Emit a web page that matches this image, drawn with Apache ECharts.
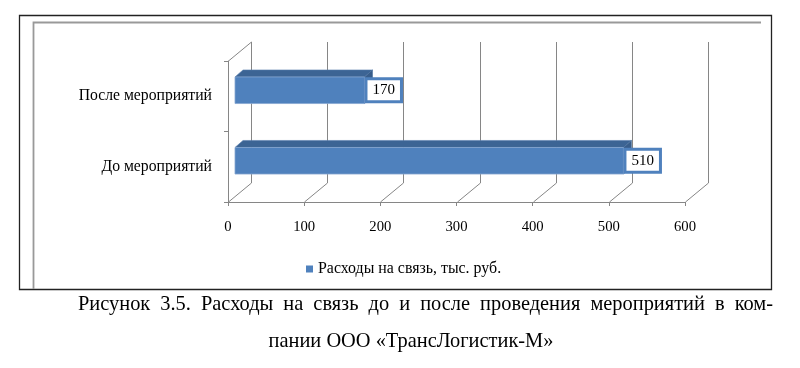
<!DOCTYPE html>
<html>
<head>
<meta charset="utf-8">
<script src="https://cdn.jsdelivr.net/npm/echarts@6/dist/echarts.min.js"></script>
<style>
html,body{margin:0;padding:0;background:#fff;}
#chart{width:800px;height:368px;}
</style>
</head>
<body>
<div id="chart"></div>
<script>
// ---- data ----
const categories = ['До мероприятий', 'После мероприятий'];
const values = [510, 170];
const xTicks = [0, 100, 200, 300, 400, 500, 600];
const seriesName = 'Расходы на связь, тыс. руб.';
const captionLine1 = 'Рисунок 3.5. Расходы на связь до и после проведения мероприятий в ком-';
const captionLine2 = 'пании ООО «ТрансЛогистик-М»';

// ---- styles ----
const FONT = '"Liberation Serif", "Times New Roman", serif';
const GRID_COLOR = '#868686';
const WALL_DX = 23, WALL_DY = -19;     // depth of the 3D walls
const BAR_DX = 7, BAR_DY = -6;         // shift of bar front face into depth
const BAR_DEPTH_X = 8, BAR_DEPTH_Y = -7;
const BAR_FRAC = 0.377;
const CAP_FONT = '20.4px ' + FONT;

const chart = echarts.init(document.getElementById('chart'), null, {renderer: 'canvas'});

function wallItem(params, api) {
  const cs = params.coordSys;
  const v = api.value(0);
  const x = Math.round(api.coord([v, 0])[0]) + 0.5;
  const top = cs.y, bottom = cs.y + cs.height;
  const style = {stroke: GRID_COLOR, lineWidth: 1, fill: null};
  const children = [
    {type: 'line', shape: {x1: x + WALL_DX, y1: top + WALL_DY, x2: x + WALL_DX, y2: bottom + WALL_DY}, style},
    {type: 'line', shape: {x1: x, y1: bottom, x2: x + WALL_DX, y2: bottom + WALL_DY}, style}
  ];
  if (v === 0) {
    children.push({type: 'line', shape: {x1: x, y1: top, x2: x + WALL_DX, y2: top + WALL_DY}, style});
  }
  return {type: 'group', children};
}

function barItem(params, api) {
  const v = api.value(0), i = api.value(1);
  const s = api.coord([0, i]);
  const e = api.coord([v, i]);
  const band = api.size([0, 1])[1];
  const h = band * BAR_FRAC;
  const x0 = s[0] + BAR_DX, x1 = e[0] + BAR_DX;
  const yc = s[1] + BAR_DY;
  const y0 = yc - h / 2, y1 = yc + h / 2;
  const dx = BAR_DEPTH_X, dy = BAR_DEPTH_Y;
  return {
    type: 'group',
    children: [
      {type: 'polygon', shape: {points: [[x0, y0], [x1, y0], [x1 + dx, y0 + dy], [x0 + dx, y0 + dy]]},
        style: {fill: '#3C6494', stroke: '#5a7fae', lineWidth: 0.6}},
      {type: 'polygon', shape: {points: [[x1, y0], [x1 + dx, y0 + dy], [x1 + dx, y1 + dy], [x1, y1]]},
        style: {fill: '#385D8A', stroke: '#4a6f9c', lineWidth: 0.6}},
      {type: 'rect', shape: {x: x0, y: y0, width: x1 - x0, height: h},
        style: {fill: '#4F81BD', stroke: '#86a6d1', lineWidth: 0.8}},
      {type: 'text', x: x1 + 3, y: yc,
        style: {text: String(v), align: 'left', verticalAlign: 'middle', fill: '#000',
          font: '15px ' + FONT, backgroundColor: '#fff', borderColor: '#4F81BD', borderWidth: 3,
          padding: [3, 5, 2, 5]}}
    ]
  };
}

// justified first caption line
function justified(text, xLeft, xRight, y, font) {
  const ctx = document.createElement('canvas').getContext('2d');
  ctx.font = font;
  const words = text.split(' ');
  const widths = words.map(w => ctx.measureText(w).width);
  const total = widths.reduce((a, b) => a + b, 0);
  const gap = (xRight - xLeft - total) / (words.length - 1);
  let x = xLeft;
  return words.map((w, k) => {
    const el = {type: 'text', x: x, y: y, style: {text: w, font: font, fill: '#000', align: 'left', verticalAlign: 'middle'}};
    x += widths[k] + gap;
    return el;
  });
}

const option = {
  animation: false,
  backgroundColor: '#fff',
  grid: {left: 228, top: 61, width: 457, height: 141, containLabel: false},
  xAxis: {
    type: 'value', min: 0, max: 600, interval: 100,
    axisLine: {show: true, onZero: false, lineStyle: {color: GRID_COLOR}},
    axisTick: {show: true, length: 4, lineStyle: {color: GRID_COLOR}},
    splitLine: {show: false},
    axisLabel: {margin: 18, fontFamily: FONT, fontSize: 14.7, color: '#000'}
  },
  yAxis: {
    type: 'category', data: categories,
    axisLine: {show: true, onZero: false, lineStyle: {color: GRID_COLOR}},
    axisTick: {show: true, length: 4, lineStyle: {color: GRID_COLOR}},
    splitLine: {show: false},
    axisLabel: {margin: 16, fontFamily: FONT, fontSize: 15.7, color: '#000', padding: [6, 0, 0, 0]}
  },
  legend: {
    data: [seriesName], left: 306, top: 261, padding: 0, icon: 'rect', itemWidth: 7, itemHeight: 7,
    textStyle: {fontFamily: FONT, fontSize: 15.9, color: '#000'}, selectedMode: false
  },
  series: [
    {type: 'custom', name: '_wall', silent: true, z: 1, clip: false,
      data: xTicks.map(v => [v, 0]), encode: {x: 0, y: 1}, renderItem: wallItem},
    {type: 'custom', name: seriesName, z: 2, clip: false, itemStyle: {color: '#4F81BD'},
      data: values.map((v, i) => [v, i]), encode: {x: 0, y: 1}, renderItem: barItem}
  ],
  graphic: [
    {type: 'rect', shape: {x: 19.5, y: 15.5, width: 752, height: 274}, style: {fill: null, stroke: '#222', lineWidth: 1.3}, z: 10},
    {type: 'polyline', shape: {points: [[33.5, 289], [33.5, 22.5], [761, 22.5]]}, style: {fill: null, stroke: '#999', lineWidth: 1.8}, z: 10}
  ].concat(justified(captionLine1, 78, 773, 305, CAP_FONT)).concat([
    {type: 'text', x: 411, y: 342, style: {text: captionLine2, font: CAP_FONT, fill: '#000', align: 'center', verticalAlign: 'middle'}}
  ])
};
chart.setOption(option);
</script>
</body>
</html>
